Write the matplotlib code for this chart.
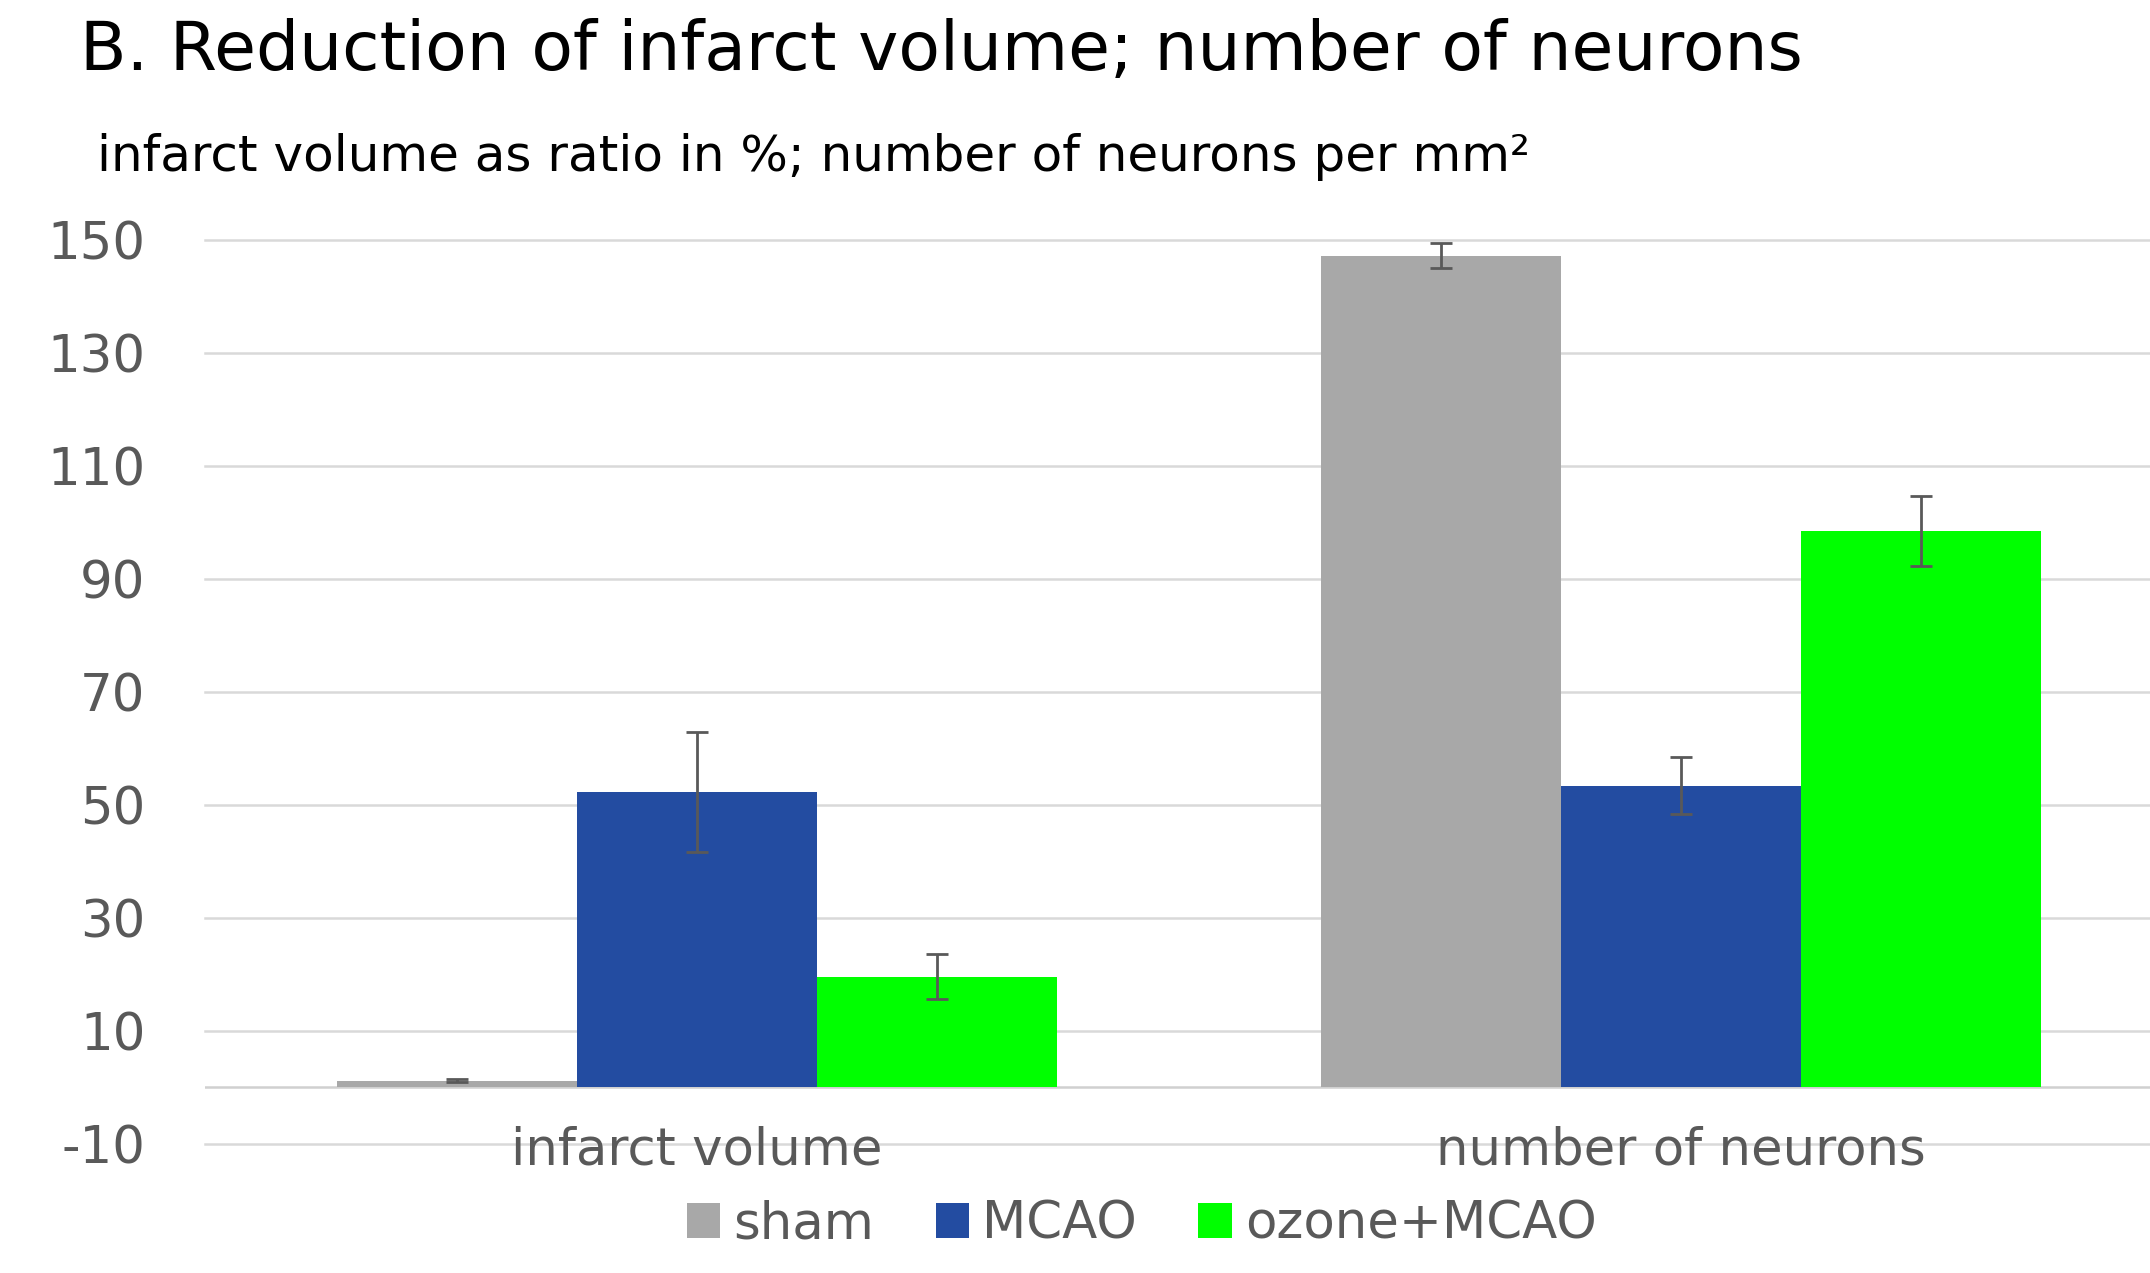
import numpy as np
import matplotlib
matplotlib.use('Agg')
import matplotlib.pyplot as plt
from matplotlib.patches import Patch

# data
categories = ['infarct volume', 'number of neurons']
groups = ['sham', 'MCAO', 'ozone+MCAO']
sham = [1.2, 147.2]
mcao = [52.3, 53.4]
ozone = [19.6, 98.5]
sham_err = [0.3, 2.2]
mcao_err = [10.6, 5.1]
ozone_err = [4.0, 6.2]
yticks = [-10, 10, 30, 50, 70, 90, 110, 130, 150]

colors = ['#a8a8a8', '#234ca1', '#00ff00']
grey_txt = '#595959'

plt.rcParams['font.family'] = ['DejaVu Sans']

fig = plt.figure(figsize=(21.5, 12.73), dpi=100)
ax = fig.add_axes([0.0955, 0.1014, 0.915, 0.7103])

x = np.arange(len(categories))
w = 0.244
series = [sham, mcao, ozone]
errs = [sham_err, mcao_err, ozone_err]
for i, (vals, e) in enumerate(zip(series, errs)):
    ax.bar(x + (i - 1) * w, vals, width=w, color=colors[i], zorder=2)
    ax.errorbar(x + (i - 1) * w, vals, yerr=e, fmt='none', ecolor=grey_txt,
                elinewidth=2, capsize=8, capthick=2, zorder=3)

ax.set_xlim(-0.5, 1.5)
ax.set_ylim(-10, 150)
ax.set_yticks(yticks)
ax.set_yticklabels([str(t) for t in yticks])
ax.tick_params(axis='y', length=0, pad=43, labelsize=37, labelcolor=grey_txt)
ax.set_xticks([])
ax.grid(axis='y', color='#d9d9d9', linewidth=1.8, zorder=0)
for gl in ax.get_ygridlines():
    gl.set_clip_on(False)
ax.axhline(0, color='#d0d0d0', linewidth=1.8, zorder=1)
for s in ax.spines.values():
    s.set_visible(False)
ax.set_axisbelow(True)

for i, c in enumerate(categories):
    ax.text(x[i], -11.2, c, ha='center', va='center', fontsize=37, color=grey_txt)

fig.text(0.037, 0.96, 'B. Reduction of infarct volume; number of neurons',
         fontsize=49, color='black', va='center', ha='left')
fig.text(0.045, 0.877, 'infarct volume as ratio in %; number of neurons per mm²',
         fontsize=36, color='black', va='center', ha='left')

handles = [Patch(facecolor=colors[i], label=groups[i]) for i in range(3)]
leg = fig.legend(handles=handles, loc='center', bbox_to_anchor=(0.531, 0.038),
                 ncol=3, frameon=False, fontsize=37, handlelength=0.65,
                 handleheight=0.65, handletextpad=0.25, columnspacing=1.2)
for t in leg.get_texts():
    t.set_color(grey_txt)

fig.savefig('out.png', dpi=100)
